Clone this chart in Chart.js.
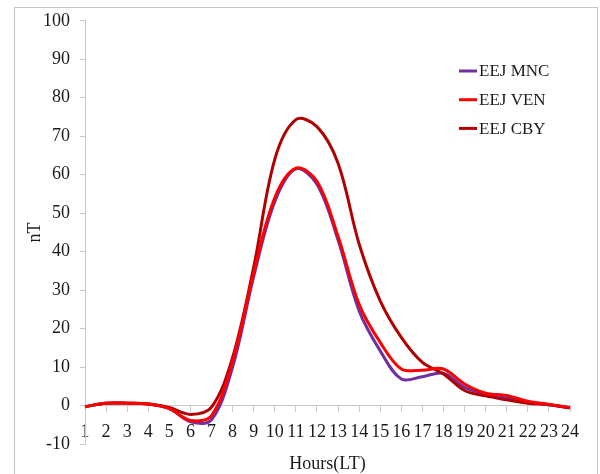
<!DOCTYPE html>
<html>
<head>
    <meta charset="utf-8" />
    <title>EEJ</title>
    <script src="https://cdn.jsdelivr.net/npm/chart.js@4.4.0/dist/chart.umd.min.js"></script>
    <style>
        body { margin: 0; background: #fff; }
        #wrap { width: 600px; height: 474px; }
    </style>
</head>
<body>
    <div id="wrap"><canvas id="myChart"></canvas></div>

    <script>
        // hours (LT)
        var hours = ['1','2','3','4','5','6','7','8','9','10','11','12','13','14','15','16','17','18','19','20','21','22','23','24'];
        // nT values
        var mnc = [-0.3, 0.6, 0.6, 0.4, -0.8, -4.2, -3.7, 10, 33.5, 53, 61.5, 57.5, 43, 24.6, 14.2, 6.9, 7.5, 8.4, 4.7, 3, 2.1, 0.9, 0.2, -0.6];
        var ven = [-0.3, 0.6, 0.6, 0.4, -0.8, -3.9, -2.6, 11.5, 34.5, 54, 61.7, 58.3, 44, 26.3, 16.4, 9.5, 9.2, 9.5, 5.6, 3.2, 2.6, 1.1, 0.3, -0.6];
        var cby = [-0.3, 0.6, 0.6, 0.4, -0.5, -2.3, -0.4, 12.5, 36, 64, 74.3, 72.5, 63, 42, 27.2, 17.7, 11.2, 8.2, 3.9, 2.5, 1.5, 0.6, 0.2, -0.6];
        var yTicks = [-10, 0, 10, 20, 30, 40, 50, 60, 70, 80, 90, 100];

        var serif = "'Liberation Serif', 'Times New Roman', serif";

        // excel style frame round the chart
        var frame = {
            id: 'frame',
            beforeDraw: function(chart) {
                var c = chart.ctx;
                c.save();
                c.fillStyle = '#fff';
                c.fillRect(0, 0, chart.width, chart.height);
                c.strokeStyle = '#c4c4c4';
                c.lineWidth = 1;
                c.strokeRect(14.5, 7.5, 583, 480);
                c.restore();
            }
        };

        // legend sits inside the plot, top right
        var boxLegend = {
            id: 'boxLegend',
            afterDraw: function(chart) {
                var c = chart.ctx;
                var rows = [0, 1, 2];
                c.save();
                c.font = '17px ' + serif;
                c.textBaseline = 'middle';
                c.fillStyle = '#1a1a1a';
                rows.forEach(function(i) {
                    var ds = chart.data.datasets[i];
                    var y = 71 + i * 28.7;
                    c.strokeStyle = ds.borderColor;
                    c.lineWidth = 3;
                    c.beginPath();
                    c.moveTo(459, y);
                    c.lineTo(477, y);
                    c.stroke();
                    c.fillText(ds.label, 479, y + 1);
                });
                c.restore();
            }
        };

        var ctx = document.getElementById('myChart').getContext('2d');
        var popChart = new Chart(ctx, {
            type: 'line',
            data: {
                labels: hours,
                datasets: [{
                    label: 'EEJ MNC',
                    data: mnc,
                    borderColor: '#7030a0',
                    order: 2
                }, {
                    label: 'EEJ VEN',
                    data: ven,
                    borderColor: '#ff0000',
                    order: 0
                }, {
                    label: 'EEJ CBY',
                    data: cby,
                    borderColor: '#b00000',
                    order: 1
                }]
            },
            options: {
                responsive: true,
                maintainAspectRatio: false,
                animation: false,
                layout: {
                    padding: { left: 0, right: 30, top: 19, bottom: 30 }
                },
                elements: {
                    line: { tension: 0.35, borderWidth: 3, fill: false },
                    point: { radius: 0 }
                },
                plugins: {
                    legend: { display: false },
                    tooltip: { enabled: false }
                },
                scales: {
                    x: {
                        type: 'category',
                        offset: false,
                        position: { y: 0 },
                        border: { color: '#c8c8c8', width: 1 },
                        grid: {
                            drawOnChartArea: false,
                            drawTicks: true,
                            tickLength: 6,
                            color: '#c8c8c8'
                        },
                        ticks: {
                            autoSkip: false,
                            maxRotation: 0,
                            padding: 10,
                            color: '#1a1a1a',
                            font: { family: serif, size: 18 }
                        },
                        title: {
                            display: true,
                            text: 'Hours(LT)',
                            color: '#1a1a1a',
                            padding: { top: 0, bottom: 0 },
                            font: { family: serif, size: 18 }
                        }
                    },
                    y: {
                        min: -10,
                        max: 100,
                        afterBuildTicks: function(scale) {
                            scale.ticks = yTicks.map(function(v) { return { value: v }; });
                        },
                        afterFit: function(scale) {
                            scale.width = 85;
                        },
                        border: { color: '#c8c8c8', width: 1 },
                        grid: {
                            drawOnChartArea: false,
                            drawTicks: true,
                            tickLength: 5,
                            color: '#c8c8c8'
                        },
                        ticks: {
                            padding: 10,
                            color: '#1a1a1a',
                            font: { family: serif, size: 18 }
                        },
                        title: {
                            display: true,
                            text: 'nT',
                            color: '#1a1a1a',
                            padding: { top: 24, bottom: 0 },
                            font: { family: serif, size: 18 }
                        }
                    }
                }
            },
            plugins: [frame, boxLegend]
        });
    </script>
</body>
</html>
